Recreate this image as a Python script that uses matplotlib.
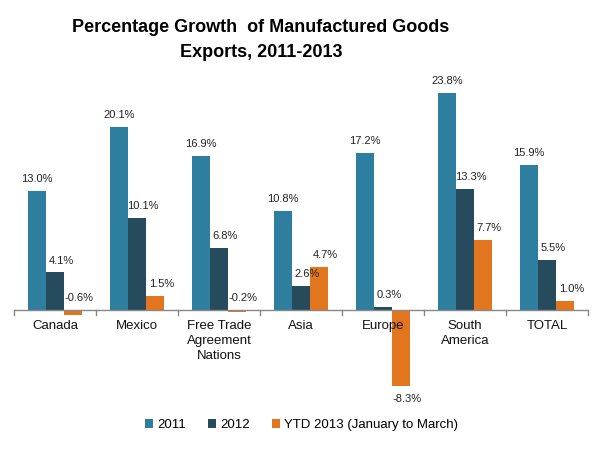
import matplotlib
matplotlib.use("Agg")
import matplotlib.pyplot as plt
import numpy as np

categories = ["Canada", "Mexico", "Free Trade\nAgreement\nNations", "Asia", "Europe", "South\nAmerica", "TOTAL"]
series_names = ["2011", "2012", "YTD 2013 (January to March)"]
v2011 = [13.0, 20.1, 16.9, 10.8, 17.2, 23.8, 15.9]
v2012 = [4.1, 10.1, 6.8, 2.6, 0.3, 13.3, 5.5]
vytd = [-0.6, 1.5, -0.2, 4.7, -8.3, 7.7, 1.0]
colors = ["#2E7EA0", "#254B5C", "#E2761E"]

plt.rcParams['font.family'] = ['Liberation Sans', 'DejaVu Sans']

fig = plt.figure(figsize=(6, 4.5), dpi=100)
ax = fig.add_axes([14/600, 1-401/450, 574/600, 319/450])

x = np.arange(len(categories))
w = 0.22
label_dx = [0, 4.5, 4.5]
for i, (vals, col, name) in enumerate(zip([v2011, v2012, vytd], colors, series_names)):
    pos = x + (i - 1) * w
    ax.bar(pos, vals, width=w, color=col, label=name, zorder=2)
    for p, v in zip(pos, vals):
        if v < -1:
            ax.annotate(f"{v:.1f}%", (p, v), xytext=(label_dx[i], -6), textcoords="offset points",
                        ha="center", va="top", fontsize=8, color="#222222")
        else:
            ax.annotate(f"{v:.1f}%", (p, max(v, 0)), xytext=(label_dx[i], 5), textcoords="offset points",
                        ha="center", va="bottom", fontsize=8, color="#222222")

ax.set_xlim(-0.5, len(categories) - 0.5)
ax.set_ylim(-10, 25)
ax.axhline(0, color="#888888", lw=1, zorder=3)
for b in np.arange(len(categories) + 1) - 0.5:
    ax.plot([b, b], [0, -0.6], color="#888888", lw=1, zorder=3, clip_on=False)

for xi, c in zip(x, categories):
    ax.text(xi, -1.1, c, ha="center", va="top", fontsize=9.5, color="#111111", linespacing=1.32)

for s in ax.spines.values():
    s.set_visible(False)
ax.set_xticks([])
ax.set_yticks([])

fig.text(0.435, 1-40/450, "Percentage Growth  of Manufactured Goods\nExports, 2011-2013", ha="center", va="center",
         fontsize=13, fontweight="bold", linespacing=1.55)

leg = fig.legend(loc="center", bbox_to_anchor=(0.503, 1-425/450), ncol=3, frameon=False,
                 fontsize=9.5, handlelength=0.6, handleheight=0.6, handletextpad=0.3, columnspacing=1.7)

fig.savefig("out.png", dpi=100)
